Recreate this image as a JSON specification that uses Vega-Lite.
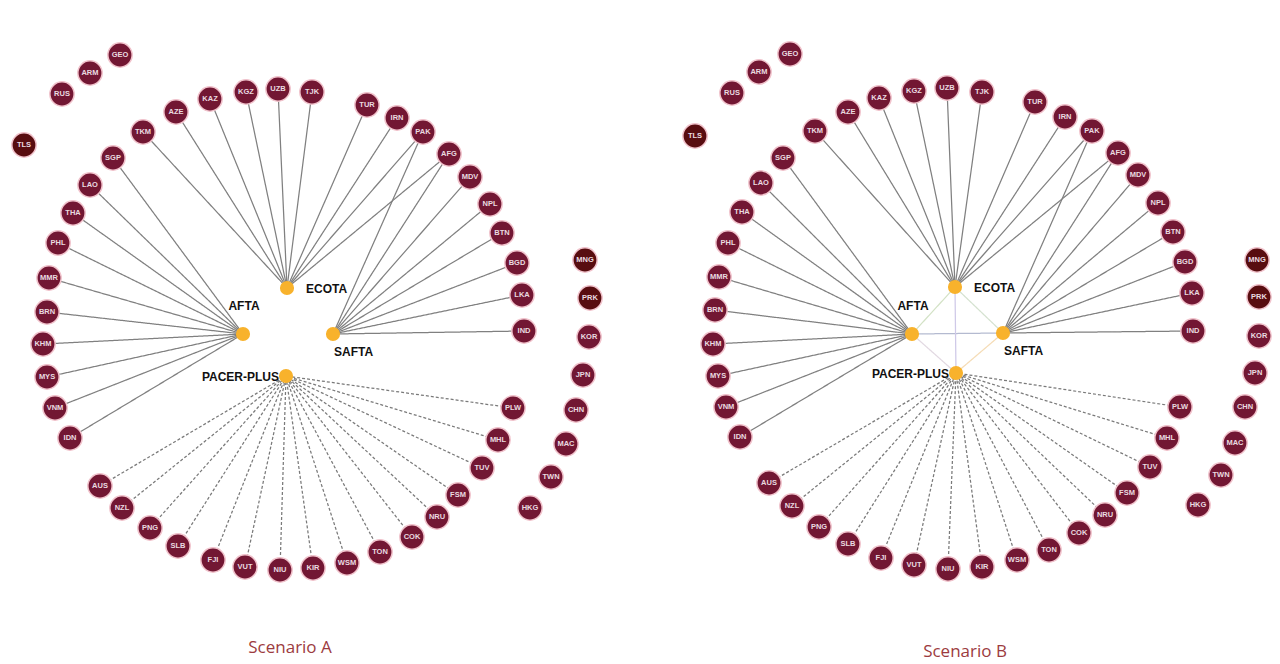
{
  "$schema": "https://vega.github.io/schema/vega-lite/v6.json",
  "width": 1280,
  "height": 664,
  "padding": 0,
  "autosize": {"type": "fit", "contains": "padding"},
  "background": "white",
  "config": {"view": {"stroke": null}},
  "datasets": {
    "nodes": [
      {"k":"A-GEO","n":"GEO","x":120,"y":55,"g":"c"},
      {"k":"A-ARM","n":"ARM","x":90,"y":73,"g":"c"},
      {"k":"A-RUS","n":"RUS","x":62,"y":94,"g":"c"},
      {"k":"A-TLS","n":"TLS","x":24,"y":145,"g":"d"},
      {"k":"A-TKM","n":"TKM","x":143,"y":132,"g":"c"},
      {"k":"A-AZE","n":"AZE","x":176,"y":112,"g":"c"},
      {"k":"A-KAZ","n":"KAZ","x":210,"y":99,"g":"c"},
      {"k":"A-KGZ","n":"KGZ","x":246,"y":92,"g":"c"},
      {"k":"A-UZB","n":"UZB","x":278,"y":89,"g":"c"},
      {"k":"A-TJK","n":"TJK","x":312,"y":92,"g":"c"},
      {"k":"A-TUR","n":"TUR","x":367,"y":105,"g":"c"},
      {"k":"A-IRN","n":"IRN","x":397,"y":118,"g":"c"},
      {"k":"A-PAK","n":"PAK","x":423,"y":132,"g":"c"},
      {"k":"A-AFG","n":"AFG","x":449,"y":154,"g":"c"},
      {"k":"A-MDV","n":"MDV","x":470,"y":177,"g":"c"},
      {"k":"A-NPL","n":"NPL","x":490,"y":204,"g":"c"},
      {"k":"A-BTN","n":"BTN","x":502,"y":233,"g":"c"},
      {"k":"A-BGD","n":"BGD","x":517,"y":263,"g":"c"},
      {"k":"A-LKA","n":"LKA","x":522,"y":295,"g":"c"},
      {"k":"A-IND","n":"IND","x":524,"y":331,"g":"c"},
      {"k":"A-MNG","n":"MNG","x":585,"y":260,"g":"d"},
      {"k":"A-PRK","n":"PRK","x":590,"y":298,"g":"d"},
      {"k":"A-KOR","n":"KOR","x":589,"y":337,"g":"c"},
      {"k":"A-JPN","n":"JPN","x":583,"y":375,"g":"c"},
      {"k":"A-CHN","n":"CHN","x":576,"y":410,"g":"c"},
      {"k":"A-MAC","n":"MAC","x":566,"y":444,"g":"c"},
      {"k":"A-TWN","n":"TWN","x":551,"y":477,"g":"c"},
      {"k":"A-HKG","n":"HKG","x":530,"y":508,"g":"c"},
      {"k":"A-PLW","n":"PLW","x":513,"y":408,"g":"c"},
      {"k":"A-MHL","n":"MHL","x":498,"y":440,"g":"c"},
      {"k":"A-TUV","n":"TUV","x":482,"y":468,"g":"c"},
      {"k":"A-FSM","n":"FSM","x":458,"y":495,"g":"c"},
      {"k":"A-NRU","n":"NRU","x":437,"y":517,"g":"c"},
      {"k":"A-COK","n":"COK","x":412,"y":537,"g":"c"},
      {"k":"A-TON","n":"TON","x":380,"y":552,"g":"c"},
      {"k":"A-WSM","n":"WSM","x":347,"y":563,"g":"c"},
      {"k":"A-KIR","n":"KIR","x":313,"y":568,"g":"c"},
      {"k":"A-NIU","n":"NIU","x":280,"y":570,"g":"c"},
      {"k":"A-VUT","n":"VUT","x":245,"y":567,"g":"c"},
      {"k":"A-FJI","n":"FJI","x":213,"y":560,"g":"c"},
      {"k":"A-SLB","n":"SLB","x":178,"y":546,"g":"c"},
      {"k":"A-PNG","n":"PNG","x":150,"y":528,"g":"c"},
      {"k":"A-NZL","n":"NZL","x":122,"y":508,"g":"c"},
      {"k":"A-AUS","n":"AUS","x":100,"y":486,"g":"c"},
      {"k":"A-IDN","n":"IDN","x":70,"y":438,"g":"c"},
      {"k":"A-VNM","n":"VNM","x":55,"y":408,"g":"c"},
      {"k":"A-MYS","n":"MYS","x":47,"y":377,"g":"c"},
      {"k":"A-KHM","n":"KHM","x":43,"y":344,"g":"c"},
      {"k":"A-BRN","n":"BRN","x":47,"y":312,"g":"c"},
      {"k":"A-MMR","n":"MMR","x":49,"y":278,"g":"c"},
      {"k":"A-PHL","n":"PHL","x":58,"y":243,"g":"c"},
      {"k":"A-THA","n":"THA","x":73,"y":213,"g":"c"},
      {"k":"A-LAO","n":"LAO","x":90,"y":185,"g":"c"},
      {"k":"A-SGP","n":"SGP","x":113,"y":158,"g":"c"},
      {"k":"A-ECOTA","n":"ECOTA","x":287,"y":288,"g":"hub","side":"right"},
      {"k":"A-AFTA","n":"AFTA","x":243,"y":334,"g":"hub","side":"above"},
      {"k":"A-SAFTA","n":"SAFTA","x":333,"y":334,"g":"hub","side":"below"},
      {"k":"A-PACER","n":"PACER-PLUS","x":286,"y":376,"g":"hub","side":"left"},
      {"k":"B-GEO","n":"GEO","x":790,"y":54,"g":"c"},
      {"k":"B-ARM","n":"ARM","x":759,"y":72,"g":"c"},
      {"k":"B-RUS","n":"RUS","x":732,"y":93,"g":"c"},
      {"k":"B-TLS","n":"TLS","x":695,"y":136,"g":"d"},
      {"k":"B-TKM","n":"TKM","x":815,"y":131,"g":"c"},
      {"k":"B-AZE","n":"AZE","x":848,"y":112,"g":"c"},
      {"k":"B-KAZ","n":"KAZ","x":879,"y":98,"g":"c"},
      {"k":"B-KGZ","n":"KGZ","x":914,"y":91,"g":"c"},
      {"k":"B-UZB","n":"UZB","x":947,"y":88,"g":"c"},
      {"k":"B-TJK","n":"TJK","x":982,"y":92,"g":"c"},
      {"k":"B-TUR","n":"TUR","x":1035,"y":102,"g":"c"},
      {"k":"B-IRN","n":"IRN","x":1065,"y":117,"g":"c"},
      {"k":"B-PAK","n":"PAK","x":1092,"y":131,"g":"c"},
      {"k":"B-AFG","n":"AFG","x":1118,"y":153,"g":"c"},
      {"k":"B-MDV","n":"MDV","x":1138,"y":175,"g":"c"},
      {"k":"B-NPL","n":"NPL","x":1158,"y":203,"g":"c"},
      {"k":"B-BTN","n":"BTN","x":1173,"y":232,"g":"c"},
      {"k":"B-BGD","n":"BGD","x":1185,"y":262,"g":"c"},
      {"k":"B-LKA","n":"LKA","x":1192,"y":293,"g":"c"},
      {"k":"B-IND","n":"IND","x":1193,"y":331,"g":"c"},
      {"k":"B-MNG","n":"MNG","x":1257,"y":260,"g":"d"},
      {"k":"B-PRK","n":"PRK","x":1259,"y":297,"g":"d"},
      {"k":"B-KOR","n":"KOR","x":1259,"y":336,"g":"c"},
      {"k":"B-JPN","n":"JPN","x":1255,"y":373,"g":"c"},
      {"k":"B-CHN","n":"CHN","x":1245,"y":407,"g":"c"},
      {"k":"B-MAC","n":"MAC","x":1235,"y":443,"g":"c"},
      {"k":"B-TWN","n":"TWN","x":1221,"y":475,"g":"c"},
      {"k":"B-HKG","n":"HKG","x":1198,"y":505,"g":"c"},
      {"k":"B-PLW","n":"PLW","x":1180,"y":407,"g":"c"},
      {"k":"B-MHL","n":"MHL","x":1167,"y":438,"g":"c"},
      {"k":"B-TUV","n":"TUV","x":1150,"y":467,"g":"c"},
      {"k":"B-FSM","n":"FSM","x":1127,"y":493,"g":"c"},
      {"k":"B-NRU","n":"NRU","x":1105,"y":515,"g":"c"},
      {"k":"B-COK","n":"COK","x":1079,"y":533,"g":"c"},
      {"k":"B-TON","n":"TON","x":1049,"y":550,"g":"c"},
      {"k":"B-WSM","n":"WSM","x":1017,"y":560,"g":"c"},
      {"k":"B-KIR","n":"KIR","x":982,"y":567,"g":"c"},
      {"k":"B-NIU","n":"NIU","x":948,"y":569,"g":"c"},
      {"k":"B-VUT","n":"VUT","x":914,"y":565,"g":"c"},
      {"k":"B-FJI","n":"FJI","x":881,"y":558,"g":"c"},
      {"k":"B-SLB","n":"SLB","x":848,"y":544,"g":"c"},
      {"k":"B-PNG","n":"PNG","x":819,"y":527,"g":"c"},
      {"k":"B-NZL","n":"NZL","x":792,"y":506,"g":"c"},
      {"k":"B-AUS","n":"AUS","x":769,"y":483,"g":"c"},
      {"k":"B-IDN","n":"IDN","x":740,"y":437,"g":"c"},
      {"k":"B-VNM","n":"VNM","x":726,"y":407,"g":"c"},
      {"k":"B-MYS","n":"MYS","x":718,"y":376,"g":"c"},
      {"k":"B-KHM","n":"KHM","x":713,"y":344,"g":"c"},
      {"k":"B-BRN","n":"BRN","x":715,"y":310,"g":"c"},
      {"k":"B-MMR","n":"MMR","x":719,"y":277,"g":"c"},
      {"k":"B-PHL","n":"PHL","x":728,"y":243,"g":"c"},
      {"k":"B-THA","n":"THA","x":742,"y":212,"g":"c"},
      {"k":"B-LAO","n":"LAO","x":761,"y":183,"g":"c"},
      {"k":"B-SGP","n":"SGP","x":783,"y":158,"g":"c"},
      {"k":"B-ECOTA","n":"ECOTA","x":955,"y":287,"g":"hub","side":"right"},
      {"k":"B-AFTA","n":"AFTA","x":912,"y":334,"g":"hub","side":"above"},
      {"k":"B-SAFTA","n":"SAFTA","x":1003,"y":333,"g":"hub","side":"below"},
      {"k":"B-PACER","n":"PACER-PLUS","x":956,"y":373,"g":"hub","side":"left"}
    ],
    "edges": [
      {"s":"A-SGP","t":"A-AFTA","e":"fta"},{"s":"A-LAO","t":"A-AFTA","e":"fta"},{"s":"A-THA","t":"A-AFTA","e":"fta"},{"s":"A-PHL","t":"A-AFTA","e":"fta"},{"s":"A-MMR","t":"A-AFTA","e":"fta"},
      {"s":"A-BRN","t":"A-AFTA","e":"fta"},{"s":"A-KHM","t":"A-AFTA","e":"fta"},{"s":"A-MYS","t":"A-AFTA","e":"fta"},{"s":"A-VNM","t":"A-AFTA","e":"fta"},{"s":"A-IDN","t":"A-AFTA","e":"fta"},
      {"s":"A-TKM","t":"A-ECOTA","e":"fta"},{"s":"A-AZE","t":"A-ECOTA","e":"fta"},{"s":"A-KAZ","t":"A-ECOTA","e":"fta"},{"s":"A-KGZ","t":"A-ECOTA","e":"fta"},{"s":"A-UZB","t":"A-ECOTA","e":"fta"},
      {"s":"A-TJK","t":"A-ECOTA","e":"fta"},{"s":"A-TUR","t":"A-ECOTA","e":"fta"},{"s":"A-IRN","t":"A-ECOTA","e":"fta"},{"s":"A-PAK","t":"A-ECOTA","e":"fta"},{"s":"A-AFG","t":"A-ECOTA","e":"fta"},
      {"s":"A-PAK","t":"A-SAFTA","e":"fta"},{"s":"A-AFG","t":"A-SAFTA","e":"fta"},{"s":"A-MDV","t":"A-SAFTA","e":"fta"},{"s":"A-NPL","t":"A-SAFTA","e":"fta"},
      {"s":"A-BTN","t":"A-SAFTA","e":"fta"},{"s":"A-BGD","t":"A-SAFTA","e":"fta"},{"s":"A-LKA","t":"A-SAFTA","e":"fta"},{"s":"A-IND","t":"A-SAFTA","e":"fta"},
      {"s":"A-AUS","t":"A-PACER","e":"pacer"},{"s":"A-NZL","t":"A-PACER","e":"pacer"},{"s":"A-PNG","t":"A-PACER","e":"pacer"},{"s":"A-SLB","t":"A-PACER","e":"pacer"},
      {"s":"A-FJI","t":"A-PACER","e":"pacer"},{"s":"A-VUT","t":"A-PACER","e":"pacer"},{"s":"A-NIU","t":"A-PACER","e":"pacer"},{"s":"A-KIR","t":"A-PACER","e":"pacer"},
      {"s":"A-WSM","t":"A-PACER","e":"pacer"},{"s":"A-TON","t":"A-PACER","e":"pacer"},{"s":"A-COK","t":"A-PACER","e":"pacer"},{"s":"A-NRU","t":"A-PACER","e":"pacer"},
      {"s":"A-FSM","t":"A-PACER","e":"pacer"},{"s":"A-TUV","t":"A-PACER","e":"pacer"},{"s":"A-MHL","t":"A-PACER","e":"pacer"},{"s":"A-PLW","t":"A-PACER","e":"pacer"},
      {"s":"B-SGP","t":"B-AFTA","e":"fta"},{"s":"B-LAO","t":"B-AFTA","e":"fta"},{"s":"B-THA","t":"B-AFTA","e":"fta"},{"s":"B-PHL","t":"B-AFTA","e":"fta"},{"s":"B-MMR","t":"B-AFTA","e":"fta"},
      {"s":"B-BRN","t":"B-AFTA","e":"fta"},{"s":"B-KHM","t":"B-AFTA","e":"fta"},{"s":"B-MYS","t":"B-AFTA","e":"fta"},{"s":"B-VNM","t":"B-AFTA","e":"fta"},{"s":"B-IDN","t":"B-AFTA","e":"fta"},
      {"s":"B-TKM","t":"B-ECOTA","e":"fta"},{"s":"B-AZE","t":"B-ECOTA","e":"fta"},{"s":"B-KAZ","t":"B-ECOTA","e":"fta"},{"s":"B-KGZ","t":"B-ECOTA","e":"fta"},{"s":"B-UZB","t":"B-ECOTA","e":"fta"},
      {"s":"B-TJK","t":"B-ECOTA","e":"fta"},{"s":"B-TUR","t":"B-ECOTA","e":"fta"},{"s":"B-IRN","t":"B-ECOTA","e":"fta"},{"s":"B-PAK","t":"B-ECOTA","e":"fta"},{"s":"B-AFG","t":"B-ECOTA","e":"fta"},
      {"s":"B-PAK","t":"B-SAFTA","e":"fta"},{"s":"B-AFG","t":"B-SAFTA","e":"fta"},{"s":"B-MDV","t":"B-SAFTA","e":"fta"},{"s":"B-NPL","t":"B-SAFTA","e":"fta"},
      {"s":"B-BTN","t":"B-SAFTA","e":"fta"},{"s":"B-BGD","t":"B-SAFTA","e":"fta"},{"s":"B-LKA","t":"B-SAFTA","e":"fta"},{"s":"B-IND","t":"B-SAFTA","e":"fta"},
      {"s":"B-AUS","t":"B-PACER","e":"pacer"},{"s":"B-NZL","t":"B-PACER","e":"pacer"},{"s":"B-PNG","t":"B-PACER","e":"pacer"},{"s":"B-SLB","t":"B-PACER","e":"pacer"},
      {"s":"B-FJI","t":"B-PACER","e":"pacer"},{"s":"B-VUT","t":"B-PACER","e":"pacer"},{"s":"B-NIU","t":"B-PACER","e":"pacer"},{"s":"B-KIR","t":"B-PACER","e":"pacer"},
      {"s":"B-WSM","t":"B-PACER","e":"pacer"},{"s":"B-TON","t":"B-PACER","e":"pacer"},{"s":"B-COK","t":"B-PACER","e":"pacer"},{"s":"B-NRU","t":"B-PACER","e":"pacer"},
      {"s":"B-FSM","t":"B-PACER","e":"pacer"},{"s":"B-TUV","t":"B-PACER","e":"pacer"},{"s":"B-MHL","t":"B-PACER","e":"pacer"},{"s":"B-PLW","t":"B-PACER","e":"pacer"},
      {"s":"B-AFTA","t":"B-ECOTA","e":"ae"},{"s":"B-AFTA","t":"B-SAFTA","e":"as"},{"s":"B-ECOTA","t":"B-SAFTA","e":"es"},
      {"s":"B-ECOTA","t":"B-PACER","e":"ep"},{"s":"B-AFTA","t":"B-PACER","e":"ap"},{"s":"B-SAFTA","t":"B-PACER","e":"sp"}
    ],
    "titles": [
      {"label":"Scenario A","x":290,"y":648},
      {"label":"Scenario B","x":965,"y":652}
    ]
  },
  "encoding": {
    "x": {"field": "x", "type": "quantitative", "scale": {"domain": [0, 1280], "nice": false, "zero": false}, "axis": null},
    "y": {"field": "y", "type": "quantitative", "scale": {"domain": [0, 664], "nice": false, "zero": false, "reverse": true}, "axis": null}
  },
  "layer": [
    {
      "data": {"name": "edges"},
      "transform": [
        {"lookup": "s", "from": {"data": {"name": "nodes"}, "key": "k", "fields": ["x", "y"]}},
        {"lookup": "t", "from": {"data": {"name": "nodes"}, "key": "k", "fields": ["x", "y"]}, "as": ["tx", "ty"]}
      ],
      "mark": {"type": "rule", "strokeWidth": 1.25},
      "encoding": {
        "x2": {"field": "tx"},
        "y2": {"field": "ty"},
        "color": {"field": "e", "type": "nominal", "legend": null,
          "scale": {"domain": ["fta", "pacer", "ae", "as", "es", "ep", "ap", "sp"],
                    "range": ["#808080", "#7a7a7a", "#d3e2c6", "#b4bad0", "#d5e2d0", "#cfc9e8", "#e2d9e2", "#f5dcb6"]}},
        "strokeDash": {"field": "e", "type": "nominal", "legend": null,
          "scale": {"domain": ["fta", "pacer", "ae", "as", "es", "ep", "ap", "sp"],
                    "range": [[1, 0], [3, 2], [1, 0], [1, 0], [1, 0], [1, 0], [1, 0], [1, 0]]}}
      }
    },
    {
      "data": {"name": "nodes"},
      "transform": [{"filter": "datum.g !== 'hub'"}],
      "mark": {"type": "point", "shape": "circle", "filled": true, "size": 590, "stroke": "#f1c3cc", "strokeWidth": 1.5, "opacity": 1},
      "encoding": {
        "fill": {"field": "g", "type": "nominal", "legend": null,
          "scale": {"domain": ["c", "d"], "range": ["#721733", "#580d10"]}}
      }
    },
    {
      "data": {"name": "nodes"},
      "transform": [{"filter": "datum.g !== 'hub'"}],
      "mark": {"type": "text", "fontSize": 7.5, "fontWeight": "bold", "font": "Liberation Sans", "color": "#eadbe0", "align": "center", "baseline": "middle"},
      "encoding": {"text": {"field": "n"}}
    },
    {
      "data": {"name": "nodes"},
      "transform": [{"filter": "datum.g === 'hub'"}],
      "mark": {"type": "point", "shape": "circle", "filled": true, "size": 200, "color": "#f8b22c", "opacity": 1}
    },
    {
      "data": {"name": "nodes"},
      "transform": [{"filter": "datum.side === 'right'"}],
      "mark": {"type": "text", "fontSize": 12, "fontWeight": "bold", "font": "Liberation Sans", "color": "#111111", "align": "left", "baseline": "middle", "dx": 19, "dy": 1},
      "encoding": {"text": {"field": "n"}}
    },
    {
      "data": {"name": "nodes"},
      "transform": [{"filter": "datum.side === 'above'"}],
      "mark": {"type": "text", "fontSize": 12, "fontWeight": "bold", "font": "Liberation Sans", "color": "#111111", "align": "center", "baseline": "middle", "dx": 1, "dy": -28},
      "encoding": {"text": {"field": "n"}}
    },
    {
      "data": {"name": "nodes"},
      "transform": [{"filter": "datum.side === 'below'"}],
      "mark": {"type": "text", "fontSize": 12, "fontWeight": "bold", "font": "Liberation Sans", "color": "#111111", "align": "left", "baseline": "middle", "dx": 1, "dy": 18},
      "encoding": {"text": {"field": "n"}}
    },
    {
      "data": {"name": "nodes"},
      "transform": [{"filter": "datum.side === 'left'"}],
      "mark": {"type": "text", "fontSize": 12, "fontWeight": "bold", "font": "Liberation Sans", "color": "#111111", "align": "right", "baseline": "middle", "dx": -7, "dy": 1},
      "encoding": {"text": {"field": "n"}}
    },
    {
      "data": {"name": "titles"},
      "mark": {"type": "text", "fontSize": 17, "font": "Open Sans", "color": "#9c3b40", "align": "center", "baseline": "middle"},
      "encoding": {"text": {"field": "label"}}
    }
  ]
}
